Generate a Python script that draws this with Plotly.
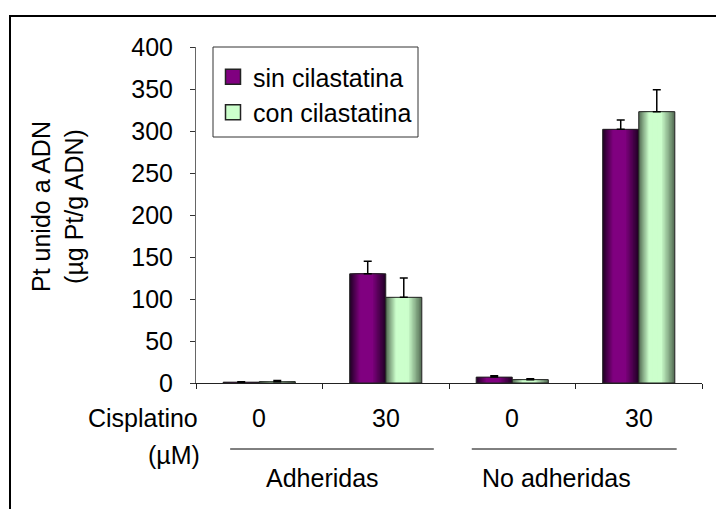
import plotly.graph_objects as go

# ---------------- data ----------------
cat_index = [0, 1, 2, 3]
cis_labels = ["0", "30", "0", "30"]
group_labels = ["Adheridas", "No adheridas"]
series_names = ["sin cilastatina", "con cilastatina"]
sin_vals = [1, 130, 7, 302]
sin_err = [0.5, 15, 1.5, 11]
con_vals = [1.5, 102, 4, 323]
con_err = [1.5, 23, 1, 26]
y_title = "Pt unido a ADN<br>(µg Pt/g ADN)"
x_row_title = "Cisplatino"
x_unit = "(µM)"

# ---------------- geometry helpers (pixels -> paper) ----------------
W_PX, H_PX = 716, 509
PL, PR, PT, PB = 196, 702, 47, 383
def xp(px):
    return (px - PL) / (PR - PL)
def yp(py):
    return (PB - py) / (PB - PT)

FONT = "Liberation Sans, Arial, sans-serif"
FS = 25
BW = 0.285  # bar width in category units

def hex2rgb(h):
    h = h.lstrip("#")
    return [int(h[i:i + 2], 16) for i in (0, 2, 4)]

def mix(c1, c2, t):
    a, b = hex2rgb(c1), hex2rgb(c2)
    return "rgb(%d,%d,%d)" % tuple(round(a[i] + (b[i] - a[i]) * t) for i in range(3))

fig = go.Figure()

series = [
    (series_names[0], sin_vals, sin_err, -BW, "#800080", "#240028", "sin"),
    (series_names[1], con_vals, con_err, 0.0, "#ccffcc", "#587258", "con"),
]

N = 14
PEAK = 0.42
for name, vals, err, off, center, edge, grp in series:
    # gradient layers (cylinder-like shading)
    for k in range(N):
        t = k / N
        left = off + t * PEAK * BW
        w = BW * (1 - t * 0.97)
        col = mix(edge, center, min(1.0, t / 0.65))
        fig.add_trace(go.Bar(
            x=cat_index, y=vals, legendgroup=grp, showlegend=False,
            width=w, offset=left,
            marker=dict(color=col, line=dict(width=0)), hoverinfo="skip"))
    # outline + error bars on top
    fig.add_trace(go.Bar(
        x=cat_index, y=vals, legendgroup=grp, showlegend=False,
        width=BW, offset=off,
        marker=dict(color="rgba(0,0,0,0)", line=dict(color="#222222", width=1)),
        error_y=dict(type="data", array=err, arrayminus=[0] * len(err),
                     symmetric=False, color="black", thickness=1.5, width=4),
        hoverinfo="skip"))
    # legend entry (square swatch)
    fig.add_trace(go.Scatter(
        x=[None], y=[None], mode="markers", name=name, legendgroup=grp,
        marker=dict(symbol="square", size=15, color=center,
                    line=dict(color="#222222", width=1.5)),
        showlegend=True, hoverinfo="skip"))

annotations = []
# cisplatin concentration labels
for i, lab in zip(cat_index, cis_labels):
    annotations.append(dict(x=i, xref="x", y=yp(418), yref="paper", text=lab,
                            showarrow=False, font=dict(size=FS, family=FONT, color="black"),
                            xanchor="center", yanchor="middle"))
annotations.append(dict(x=xp(200), xref="paper", y=yp(418), yref="paper", text=x_row_title,
                        showarrow=False, font=dict(size=FS, family=FONT, color="black"),
                        xanchor="right", yanchor="middle"))
annotations.append(dict(x=xp(202), xref="paper", y=yp(455), yref="paper", text=x_unit,
                        showarrow=False, font=dict(size=FS, family=FONT, color="black"),
                        xanchor="right", yanchor="middle"))
annotations.append(dict(x=0.5, xref="x", y=yp(478), yref="paper", text=group_labels[0],
                        showarrow=False, font=dict(size=FS, family=FONT, color="black"),
                        xanchor="center", yanchor="middle"))
annotations.append(dict(x=2.35, xref="x", y=yp(478), yref="paper", text=group_labels[1],
                        showarrow=False, font=dict(size=FS, family=FONT, color="black"),
                        xanchor="center", yanchor="middle"))
annotations.append(dict(x=xp(57), xref="paper", y=yp(207), yref="paper", text=y_title,
                        showarrow=False, textangle=-90,
                        font=dict(size=FS, family=FONT, color="black"),
                        xanchor="center", yanchor="middle"))

shapes = [
    # outer frame
    dict(type="rect", xref="paper", yref="paper", x0=xp(10), x1=xp(730),
         y0=yp(16), y1=yp(530), line=dict(color="black", width=2), fillcolor="rgba(0,0,0,0)",
         layer="below"),
    # legend box
    dict(type="rect", xref="paper", yref="paper", x0=xp(213), x1=xp(418),
         y0=yp(47), y1=yp(137), line=dict(color="#333333", width=1), fillcolor="white",
         layer="above"),
    # group underlines
    dict(type="line", xref="x", yref="paper", x0=-0.23, x1=1.38, y0=yp(449), y1=yp(449),
         line=dict(color="black", width=1)),
    dict(type="line", xref="x", yref="paper", x0=1.68, x1=3.30, y0=yp(449), y1=yp(449),
         line=dict(color="black", width=1)),
]

fig.update_layout(
    width=W_PX, height=H_PX,
    margin=dict(l=PL, r=W_PX - PR, t=PT, b=H_PX - PB, pad=0),
    paper_bgcolor="white", plot_bgcolor="white",
    barmode="overlay",
    font=dict(family=FONT, size=FS, color="black"),
    showlegend=True,
    legend=dict(x=xp(213), y=yp(54), xanchor="left", yanchor="top",
                bgcolor="rgba(0,0,0,0)", borderwidth=0,
                font=dict(size=FS, family=FONT, color="black"),
                tracegroupgap=6, traceorder="normal"),
    annotations=annotations,
    shapes=shapes,
    xaxis=dict(range=[-0.5, 3.5], tickvals=[-0.5, 0.5, 1.5, 2.5, 3.5],
               ticktext=["", "", "", "", ""], ticks="outside", ticklen=5,
               tickcolor="#222222", showline=True, linecolor="#222222", linewidth=1,
               showgrid=False, zeroline=False, fixedrange=True),
    yaxis=dict(range=[0, 400], tickmode="linear", tick0=0, dtick=50,
               ticks="outside", ticklen=5, tickcolor="#333333",
               showline=True, linecolor="#666666", linewidth=1,
               showgrid=False, zeroline=False,
               tickfont=dict(size=FS, family=FONT, color="black"),
               ticklabelstandoff=12),
)

fig.write_html("out.html")
